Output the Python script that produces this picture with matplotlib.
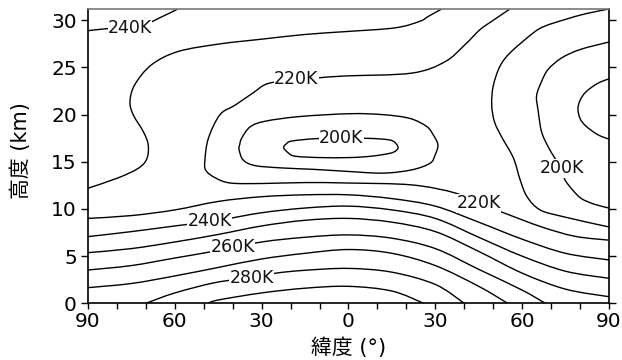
import matplotlib

matplotlib.use("Agg")
import matplotlib.pyplot as plt
from matplotlib.path import Path
from matplotlib.patches import PathPatch

plt.rcParams["font.family"] = ["DejaVu Sans", "Noto Sans CJK JP"]

# isotherm traces: latitude (deg, south negative) and height (km)
t190_lat = [90, 86, 82, 80, 79.3, 80, 82, 86, 90]
t190_km = [23.8, 23.3, 22.4, 21.5, 20.6, 19.6, 18.8, 17.9, 17.4]

t200n_lat = [90, 80, 73.6, 69, 66.7, 65.0, 65.5, 66.7, 69, 71.3, 73.6, 74.8, 77.5, 80.5, 85, 90]
t200n_km = [27.7, 26.9, 26.0, 24.8, 23.5, 22.0, 20.5, 18.2, 16.6, 15.4, 14.3, 13.1, 12.0, 11.1, 10.5, 10.1]

t200_lat = [-2.5, 5, 12, 15.4, 17.1, 16.5, 14.3, 8, 0.5, -10, -18.5, -21, -22.4, -21.5, -19.6, -11.6, -2.5]
t200_km = [17.5, 17.5, 17.4, 17.2, 16.6, 16.2, 15.9, 15.6, 15.45, 15.45, 15.6, 16.0, 16.5, 16.9, 17.2, 17.45, 17.5]

t210n_lat = [90, 82, 75, 68, 64, 56, 52.3, 50, 49.5, 50.5, 53, 57, 59.3, 61.7, 66.2, 74, 86.9, 90]
t210n_km = [31.2, 30.7, 30.1, 29.4, 28.7, 26.6, 25.1, 23.0, 21.0, 19.2, 17.6, 15.4, 13.1, 11.3, 9.9, 9.2, 8.3, 8.1]

t210_lat = [0.5, 11.9, 21.2, 27, 29.2, 30.9, 29.9, 28.2, 21.9, 11.9, -1.2, -12, -23, -32.3, -36.4, -37.8, -37.6, -36.9, -34, -28.8, -16.8, 0.5]
t210_km = [20.1, 20.0, 19.6, 18.75, 17.9, 16.8, 15.7, 14.85, 14.15, 13.8, 14.0, 14.2, 14.35, 14.6, 15.2, 16.3, 16.8, 17.5, 18.7, 19.3, 19.8, 20.1]

t220_lat = [55.8, 50, 45.4, 40.2, 33.3, 21.8, -1.2, -10.5, -18, -27.8, -33, -39.2, -44.4, -48.4, -49.6, -49.3, -46, -40.8, -30, -15, 0, 21.9, 36.8, 45, 54, 66.7, 78.3, 89.8]
t220_km = [31.2, 30.0, 29.0, 27.4, 25.6, 24.4, 24.1, 23.9, 23.7, 23.3, 22.3, 21.0, 20.0, 17.5, 15.2, 14.1, 13.3, 12.75, 12.7, 12.8, 12.75, 12.55, 11.7, 10.6, 9.55, 8.1, 7.1, 6.7]

t230u_lat = [-90, -79.6, -72.7, -69.7, -69.2, -70.9, -74.4, -75.5, -73.8, -68, -58.8, -44.4, -30, -15, -1.2, 16.1, 24.7, 27.5, 32.2]
t230u_km = [12.2, 13.3, 14.3, 15.3, 16.8, 18.2, 20.0, 21.4, 23.2, 25.3, 26.7, 27.5, 28.0, 28.5, 28.8, 29.2, 29.9, 30.4, 31.2]

t240u_lat = [-90, -84, -72, -65, -59]
t240u_km = [28.9, 29.1, 29.4, 30.3, 31.2]

lat_grid = [-90, -75, -60, -45, -30, -15, 0, 15, 30, 45, 60, 75, 90]
t230_km = [9.0, 9.3, 9.9, 10.8, 11.3, 11.5, 11.5, 11.1, 10.3, 8.6, 6.8, 5.3, 4.6]
t240_km = [7.07, 7.6, 8.2, 8.8, 9.6, 10.1, 10.3, 9.9, 9.0, 7.0, 5.0, 3.4, 2.65]
t250_km = [5.37, 5.8, 6.5, 7.3, 8.2, 8.8, 9.0, 8.6, 7.6, 5.5, 3.2, 1.5, 0.7]
t260_km = [3.53, 4.0, 4.8, 5.6, 6.5, 7.0, 7.25, 6.9, 5.8, 3.6, 1.4]
t270_km = [1.66, 2.1, 2.9, 3.8, 4.7, 5.3, 5.7, 5.3, 4.0, 1.8]

t260_lat = lat_grid[:11] + [68]
t260_km = t260_km + [0]
t270_lat = lat_grid[:10] + [55]
t270_km = t270_km + [0]
t280_lat = [-70, -60, -46, -34, -25, -15, 0, 15, 30, 40]
t280_km = [0, 1.1, 2.2, 2.7, 3.2, 3.5, 3.7, 3.3, 2.0, 0]
t290_lat = [-48.5, -45, -30, -15, 0, 15, 26]
t290_km = [0, 0.35, 1.1, 1.6, 1.8, 1.3, 0]

isotherms = [
    (t190_lat, t190_km),
    (t200n_lat, t200n_km),
    (t200_lat, t200_km),
    (t210n_lat, t210n_km),
    (t210_lat, t210_km),
    (t220_lat, t220_km),
    (t230u_lat, t230u_km),
    (t240u_lat, t240u_km),
    (lat_grid, t230_km),
    (lat_grid, t240_km),
    (lat_grid, t250_km),
    (t260_lat, t260_km),
    (t270_lat, t270_km),
    (t280_lat, t280_km),
    (t290_lat, t290_km),
]

# level labels: temperature, latitude, height
labels = [
    (240, -75.5, 29.2),
    (220, -18, 23.8),
    (200, -2.5, 17.5),
    (200, 73.6, 14.3),
    (220, 45, 10.6),
    (240, -48, 8.7),
    (260, -40, 6.0),
    (280, -33.5, 2.7),
]


def smooth_path(xs, ys):
    """Catmull-Rom curve through the traced points, as cubic Bezier segments."""
    pts = list(zip(xs, ys))
    closed = pts[0] == pts[-1]
    if closed:
        pts = pts[:-1]
    n = len(pts)
    verts = [pts[0]]
    codes = [Path.MOVETO]
    nseg = n if closed else n - 1
    for i in range(nseg):
        p1 = pts[i]
        p2 = pts[(i + 1) % n]
        p0 = pts[i - 1] if (closed or i > 0) else p1
        p3 = pts[(i + 2) % n] if (closed or i + 2 < n) else p2
        c1 = (p1[0] + (p2[0] - p0[0]) / 6, p1[1] + (p2[1] - p0[1]) / 6)
        c2 = (p2[0] - (p3[0] - p1[0]) / 6, p2[1] - (p3[1] - p1[1]) / 6)
        verts += [c1, c2, p2]
        codes += [Path.CURVE4] * 3
    return Path(verts, codes)


fig = plt.figure(figsize=(6.22, 3.6), dpi=100)
ax = fig.add_axes([0.1415, 0.1575, 0.8375, 0.8175])

for lat, km in isotherms:
    ax.add_patch(PathPatch(smooth_path(lat, km), facecolor="none",
                           edgecolor="black", lw=1.0))

for level, lat, km in labels:
    ax.text(lat, km, f"{level}K", fontsize=12.5, ha="center", va="center",
            color="#111111",
            bbox=dict(facecolor="white", edgecolor="none", pad=0.2))

ax.set_xlim(-90, 90)
ax.set_ylim(0, 31.2)

xticks = [-90, -60, -30, 0, 30, 60, 90]
ax.set_xticks(xticks)
ax.set_xticklabels([str(abs(t)) for t in xticks])
ax.set_xticks(range(-80, 90, 10), minor=True)
ax.set_yticks([0, 5, 10, 15, 20, 25, 30])

ax.tick_params(axis="x", which="both", direction="out", length=4, width=1.0,
               labelsize=14.5, pad=2)
ax.tick_params(axis="y", which="both", direction="out", length=5, width=1.0,
               labelsize=14.5, pad=3, right=True)

for side in ["left", "right", "bottom"]:
    ax.spines[side].set_linewidth(1.2)
    ax.spines[side].set_color("black")
ax.spines["top"].set_color("#777777")
ax.spines["top"].set_linewidth(1.2)

ax.set_xlabel("緯度 (°)", fontsize=15)
ax.xaxis.set_label_coords(0.5, -0.15)
ax.xaxis.label.set_va("center")
ax.set_ylabel("高度 (km)", fontsize=15)
ax.yaxis.set_label_coords(-0.13, 0.52)
ax.yaxis.label.set_va("center")

fig.savefig("out.png", dpi=100)
